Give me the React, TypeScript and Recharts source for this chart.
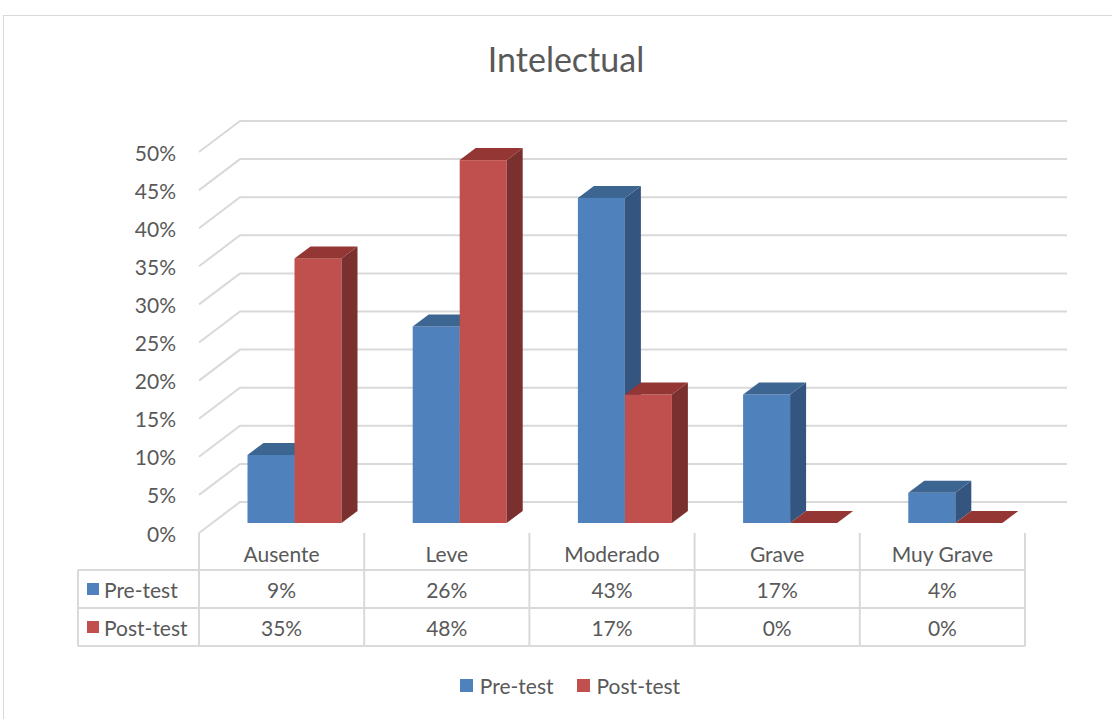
import { BarChart, Bar, XAxis, YAxis, CartesianGrid, Legend } from 'recharts'

const categories = ['Ausente', 'Leve', 'Moderado', 'Grave', 'Muy Grave']
const preTest = [9, 26, 43, 17, 4]
const postTest = [35, 48, 17, 0, 0]
const yTicks = [0, 5, 10, 15, 20, 25, 30, 35, 40, 45, 50]

const data = categories.map((name, i) => ({ name, pre: preTest[i], post: postTest[i] }))

const series = [
  { key: 'pre', name: 'Pre-test', values: preTest, face: '#4F81BD', top: '#3C6591', side: '#34557F' },
  { key: 'post', name: 'Post-test', values: postTest, face: '#C0504D', top: '#943634', side: '#7A302E' },
]

const W = 1112
const H = 719
const FONT = 'Lato, "Open Sans", sans-serif'
const TEXT = '#595959'
const LINE = '#D9D9D9'

// plot area (front plane of the bars)
const PLOT_LEFT = 199
const PLOT_RIGHT = 1025
const PLOT_TOP = 145
const PLOT_BOTTOM = 523
const Y_AXIS_W = 60
const X_AXIS_H = 150

// 3d look
const BAR_SHIFT = 12.5
const DEPTH_X = 16
const DEPTH_Y = 12
const WALL_BACK_X = 240
const WALL_END_X = 1067
const FRONT_ZERO = 533
const BACK_ZERO = 502
const WALL_SPAN = 381

// table rows
const TABLE_TOP = 533
const ROW_LINES = [570, 608, 646]
const ROW_TEXT = [553, 589, 627]
const TABLE_LEFT = 78

const frac = (y: number) => (PLOT_BOTTOM - y) / (PLOT_BOTTOM - PLOT_TOP)

function Box3D(props: any) {
  const { x, y, width, height, face, top, side } = props
  const l = x + BAR_SHIFT
  const r = l + width
  const b = y + height
  return (
    <g>
      <rect x={l} y={y} width={width} height={height} fill={face} />
      <polygon
        points={`${r},${y} ${r + DEPTH_X},${y - DEPTH_Y} ${r + DEPTH_X},${b - DEPTH_Y} ${r},${b}`}
        fill={side}
      />
      <polygon
        points={`${l},${y} ${l + DEPTH_X},${y - DEPTH_Y} ${r + DEPTH_X},${y - DEPTH_Y} ${r},${y}`}
        fill={top}
      />
    </g>
  )
}

function WallLine(p: any) {
  const t = frac(p.y1)
  const yf = FRONT_ZERO - t * WALL_SPAN
  const yb = BACK_ZERO - t * WALL_SPAN
  return (
    <polyline
      key={`grid-${p.index}`}
      points={`${PLOT_LEFT},${yf} ${WALL_BACK_X},${yb} ${WALL_END_X},${yb}`}
      fill="none"
      stroke={LINE}
      strokeWidth={2}
    />
  )
}

function PercentTick(p: any) {
  const t = frac(p.y)
  return (
    <text
      x={176}
      y={FRONT_ZERO - t * WALL_SPAN}
      textAnchor="end"
      dominantBaseline="central"
      fill={TEXT}
      fontSize={21}
      fontFamily={FONT}
    >
      {p.payload.value}%
    </text>
  )
}

function TableColumn(p: any) {
  const i = p.payload.index
  const bw = (PLOT_RIGHT - PLOT_LEFT) / categories.length
  const x0 = p.x - bw / 2
  const x1 = p.x + bw / 2
  const txt = { fill: TEXT, fontSize: 21, fontFamily: FONT, dominantBaseline: 'central' as const }
  return (
    <g>
      <line x1={x0} y1={TABLE_TOP} x2={x0} y2={ROW_LINES[2]} stroke={LINE} strokeWidth={2} />
      {i === categories.length - 1 && (
        <line x1={x1} y1={TABLE_TOP} x2={x1} y2={ROW_LINES[2]} stroke={LINE} strokeWidth={2} />
      )}
      {ROW_LINES.map((ly) => (
        <line key={ly} x1={i === 0 ? TABLE_LEFT : x0} y1={ly} x2={x1} y2={ly} stroke={LINE} strokeWidth={2} />
      ))}
      {i === 0 && (
        <g>
          <line x1={TABLE_LEFT} y1={ROW_LINES[0]} x2={TABLE_LEFT} y2={ROW_LINES[2]} stroke={LINE} strokeWidth={2} />
          {series.map((s, r) => (
            <g key={s.key}>
              <rect x={87} y={ROW_TEXT[r + 1] - 6} width={12} height={12} fill={s.face} />
              <text x={104} y={ROW_TEXT[r + 1]} {...txt}>
                {s.name}
              </text>
            </g>
          ))}
        </g>
      )}
      <text x={p.x} y={ROW_TEXT[0]} textAnchor="middle" {...txt}>
        {categories[i]}
      </text>
      {series.map((s, r) => (
        <text key={s.key} x={p.x} y={ROW_TEXT[r + 1]} textAnchor="middle" {...txt}>
          {s.values[i]}%
        </text>
      ))}
    </g>
  )
}

function LegendRow() {
  return (
    <div style={{ display: 'flex', justifyContent: 'center', gap: 23, fontFamily: FONT, fontSize: 21, color: TEXT }}>
      {series.map((s) => (
        <div key={s.key} style={{ display: 'flex', alignItems: 'center' }}>
          <span style={{ display: 'inline-block', width: 13, height: 13, background: s.face, marginRight: 7 }} />
          <span>{s.name}</span>
        </div>
      ))}
    </div>
  )
}

export default function App() {
  return (
    <div style={{ position: 'absolute', left: 0, top: 0, width: W, height: H, background: '#fff', overflow: 'hidden' }}>
      <div
        style={{
          position: 'absolute',
          left: 3,
          top: 15,
          width: W,
          height: H,
          border: `1px solid ${LINE}`,
        }}
      />
      <div
        style={{
          position: 'absolute',
          left: 366,
          top: 42,
          width: 400,
          textAlign: 'center',
          fontFamily: FONT,
          fontSize: 34,
          lineHeight: '34px',
          color: TEXT,
        }}
      >
        Intelectual
      </div>
      <BarChart
        width={W}
        height={H}
        data={data}
        barSize={47}
        barGap={0}
        margin={{ top: PLOT_TOP, right: W - PLOT_RIGHT, bottom: H - PLOT_BOTTOM - X_AXIS_H, left: PLOT_LEFT - Y_AXIS_W }}
      >
        <CartesianGrid vertical={false} horizontal={WallLine} />
        <XAxis dataKey="name" axisLine={false} tickLine={false} height={X_AXIS_H} interval={0} tick={<TableColumn />} />
        <YAxis
          domain={[0, 50]}
          ticks={yTicks}
          width={Y_AXIS_W}
          axisLine={false}
          tickLine={false}
          tick={<PercentTick />}
        />
        {series.map((s) => (
          <Bar
            key={s.key}
            dataKey={s.key}
            name={s.name}
            fill={s.face}
            isAnimationActive={false}
            shape={(p: any) => <Box3D {...p} face={s.face} top={s.top} side={s.side} />}
          />
        ))}
        <Legend
          verticalAlign="middle"
          align="center"
          content={<LegendRow />}
          wrapperStyle={{ top: 673, left: 0, width: 1140 }}
        />
      </BarChart>
    </div>
  )
}
